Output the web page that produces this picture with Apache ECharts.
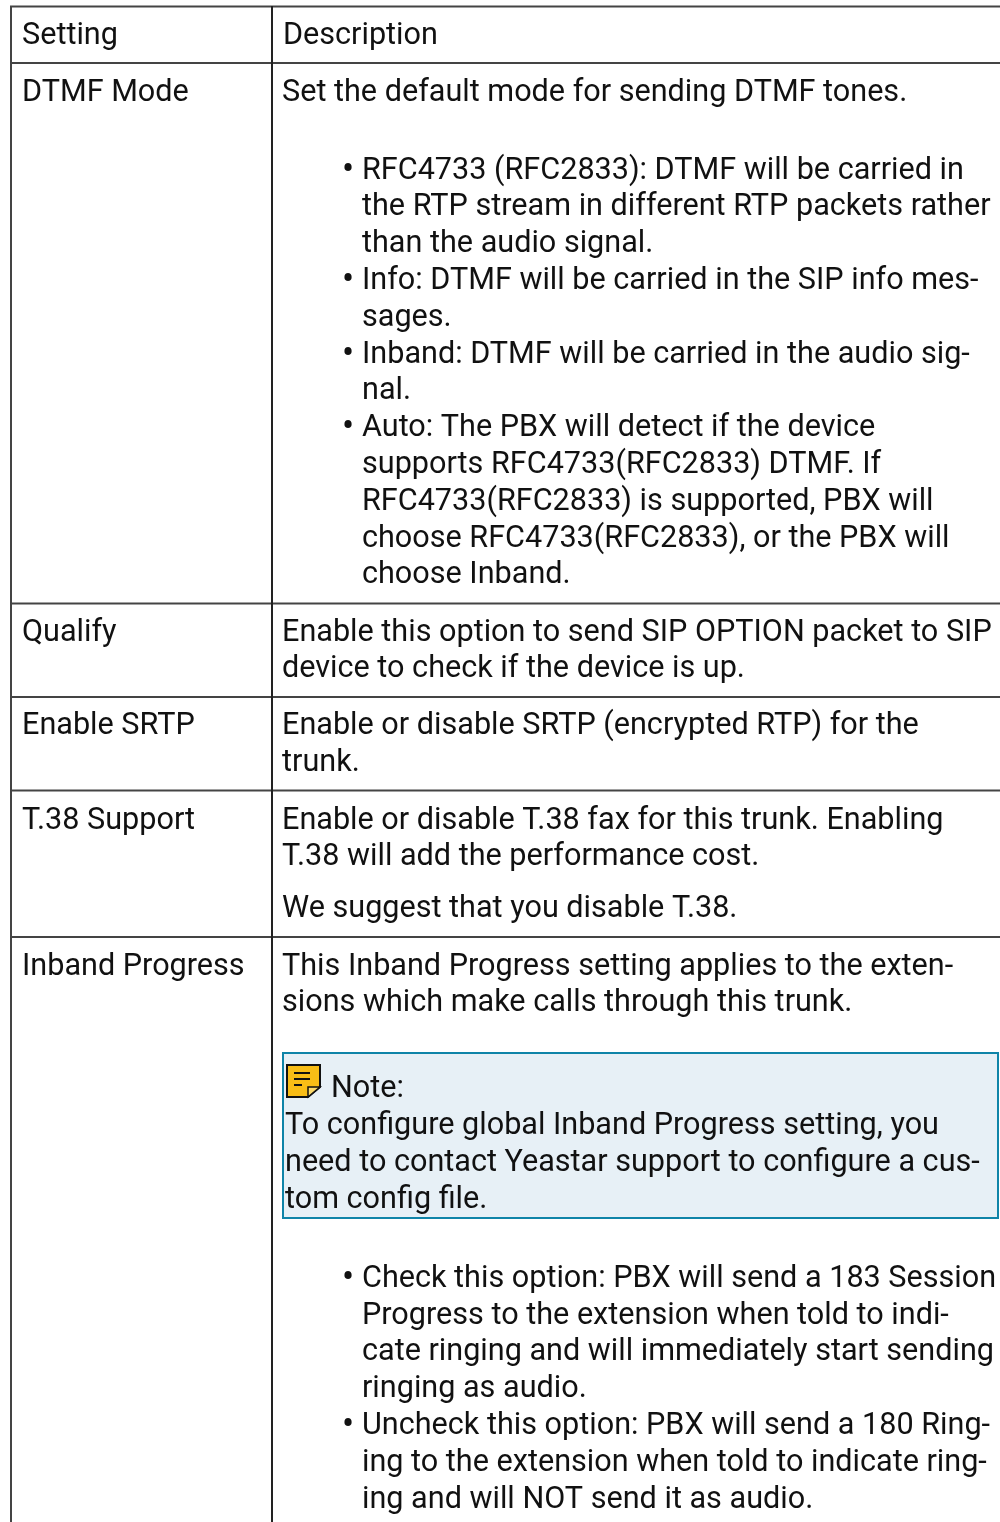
<!DOCTYPE html>
<html>
<head>
<meta charset="utf-8">
<style>html,body{margin:0;padding:0;background:#fff}#main{width:1000px;height:1522px}</style>
<script src="https://cdn.jsdelivr.net/npm/echarts@6/dist/echarts.min.js"></script>
</head>
<body>
<div id="main"></div>
<script>
// [text, x, centre y]
const settingLabels = [
  ['Setting', 22, 33], ['DTMF Mode', 22, 90], ['Qualify', 22, 630],
  ['Enable SRTP', 22, 723], ['T.38 Support', 22, 818], ['Inband Progress', 22, 964]
]
const descLines = [
  ['Description', 283, 33],
  ['Set the default mode for sending DTMF tones.', 282, 90],
  ['RFC4733 (RFC2833): DTMF will be carried in', 362, 168],
  ['the RTP stream in different RTP packets rather', 362, 204],
  ['than the audio signal.', 362, 241],
  ['Info: DTMF will be carried in the SIP info mes-', 362, 278],
  ['sages.', 362, 315],
  ['Inband: DTMF will be carried in the audio sig-', 362, 352],
  ['nal.', 362, 388],
  ['Auto: The PBX will detect if the device', 362, 425],
  ['supports RFC4733(RFC2833) DTMF. If', 362, 462],
  ['RFC4733(RFC2833) is supported, PBX will', 362, 499],
  ['choose RFC4733(RFC2833), or the PBX will', 362, 536],
  ['choose Inband.', 362, 572],
  ['Enable this option to send SIP OPTION packet to SIP', 282, 630],
  ['device to check if the device is up.', 282, 666],
  ['Enable or disable SRTP (encrypted RTP) for the', 282, 723],
  ['trunk.', 282, 760],
  ['Enable or disable T.38 fax for this trunk. Enabling', 282, 818],
  ['T.38 will add the performance cost.', 282, 854],
  ['We suggest that you disable T.38.', 282, 906],
  ['This Inband Progress setting applies to the exten-', 282, 964],
  ['sions which make calls through this trunk.', 282, 1000],
  ['Note:', 331, 1086],
  ['To configure global Inband Progress setting, you', 285, 1123],
  ['need to contact Yeastar support to configure a cus-', 285, 1160],
  ['tom config file.', 285, 1197],
  ['Check this option: PBX will send a 183 Session', 362, 1276],
  ['Progress to the extension when told to indi-', 362, 1313],
  ['cate ringing and will immediately start sending', 362, 1349],
  ['ringing as audio.', 362, 1386],
  ['Uncheck this option: PBX will send a 180 Ring-', 362, 1423],
  ['ing to the extension when told to indicate ring-', 362, 1460],
  ['ing and will NOT send it as audio.', 362, 1497]
]
const bulletRows = [168, 278, 352, 425, 1276, 1423]
const rowLines = [6.5, 63, 603.5, 697, 790.5, 937]

const textColor = '#111111'
const lineColor = '#444444'
const elements = []
const textTop = 3

function hLine(y, x1, x2) {
  elements.push({type: 'line', shape: {x1: x1, y1: y, x2: x2, y2: y}, style: {stroke: lineColor, lineWidth: 2}})
}
function vLine(x, y1, y2, w, c) {
  elements.push({type: 'line', shape: {x1: x, y1: y1, x2: x, y2: y2}, style: {stroke: c, lineWidth: w}})
}
rowLines.forEach(y => hLine(y, 10, 1000))
vLine(11, 6, 1522, 2, lineColor)
vLine(272, 6, 1522, 2, '#222222')

// note box
elements.push({
  type: 'rect',
  shape: {x: 283, y: 1053, width: 715, height: 165},
  style: {fill: '#e7f0f6', stroke: '#0f84a8', lineWidth: 2}
})
// note icon
elements.push({
  type: 'polygon',
  shape: {points: [[287, 1065], [320, 1065], [320, 1087], [308, 1097], [287, 1097]]},
  style: {fill: '#f8bd16', stroke: '#111111', lineWidth: 2}
})
elements.push({
  type: 'polygon',
  shape: {points: [[308, 1087], [320, 1087], [308, 1097]]},
  style: {fill: '#fbd96a', stroke: '#111111', lineWidth: 1.5}
})
;[[294, 1073, 310], [294, 1079, 310], [294, 1085, 302]].forEach(l => {
  elements.push({type: 'line', shape: {x1: l[0], y1: l[1], x2: l[2], y2: l[1]}, style: {stroke: '#111111', lineWidth: 2}})
})

settingLabels.concat(descLines).forEach(t => {
  elements.push({
    type: 'text',
    style: {text: t[0], x: t[1], y: t[2] + textTop, fill: textColor, font: '30.6px Roboto', verticalAlign: 'middle'}
  })
})
bulletRows.forEach(y => {
  elements.push({
    type: 'text',
    style: {text: '•', x: 342, y: y + textTop + 1, fill: textColor, font: '36px Roboto', verticalAlign: 'middle'}
  })
})

const chart = echarts.init(document.getElementById('main'), null, {renderer: 'canvas'})
chart.setOption({animation: false, graphic: {elements: elements}})
</script>
</body>
</html>
